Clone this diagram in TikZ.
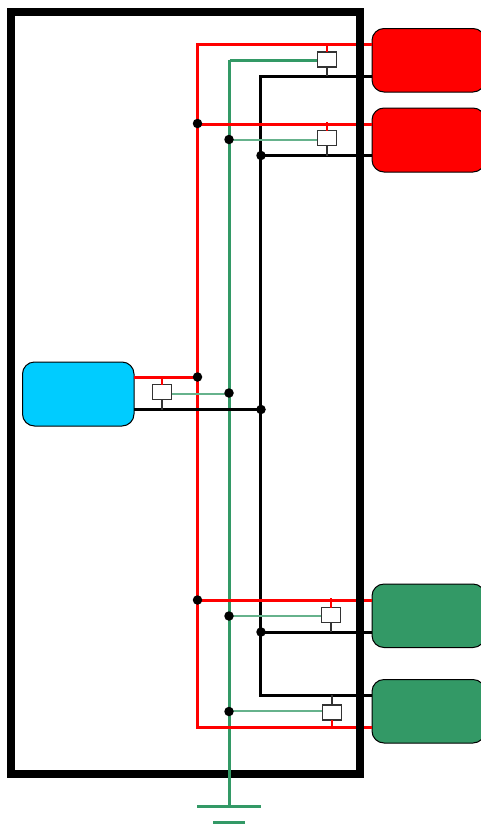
\documentclass[tikz,border=0pt]{standalone}
\definecolor{relred}{RGB}{255,0,0}
\definecolor{relgreen}{RGB}{51,153,102}
\definecolor{relblue}{RGB}{0,204,255}
\tikzset{
  x=1pt,y=-1pt,
  module/.style={draw=black,line width=1pt,rounded corners=12pt,anchor=north west,inner sep=0pt,outer sep=0pt},
  relay/.style={draw=black!80,fill=white,line width=1.4pt,minimum width=19.5pt,minimum height=15pt,inner sep=0pt,outer sep=0pt},
  dot/.style={circle,fill=black,inner sep=0pt,minimum size=9.5pt},
  bus/.style={line width=3pt},
  tap/.style={line width=1.3pt},
  sense/.style={line width=1.7pt,relgreen!75},
}
\begin{document}
\begin{tikzpicture}
\useasboundingbox (0,0) rectangle (481,835);
\clip (0,0) rectangle (481,835);
\fill[white] (0,0) rectangle (481,835);
% modules
\node[module,fill=relred,minimum width=113pt,minimum height=63.5pt] (ra) at (372,28.5) {};
\node[module,fill=relred,minimum width=113pt,minimum height=64pt] (rb) at (372,108) {};
\node[module,fill=relgreen,minimum width=113pt,minimum height=63.5pt] (ga) at (372,584) {};
\node[module,fill=relgreen,minimum width=113pt,minimum height=63.5pt] (gb) at (372,679.5) {};
\node[module,fill=relblue,minimum width=111.5pt,minimum height=64pt] (bl) at (22.5,362) {};
% free ends
\coordinate (rtop) at (197.5,44.5);
\coordinate (rbot) at (197.5,727.5);
\coordinate (ktop) at (260.7,76);
\coordinate (kbot) at (260.7,695);
\coordinate (gtop) at (229.5,60);
\coordinate (gbus) at (229.5,806);
\coordinate (gla) at (197,806);
\coordinate (glb) at (261,806);
\coordinate (gsa) at (213,822);
\coordinate (gsb) at (245,822);
\coordinate (gfa) at (229.5,760);
\coordinate (gfb) at (229.5,790);
\coordinate (ra1) at (372,44.5);
\coordinate (ra2) at (372,76);
\coordinate (rb1) at (372,124);
\coordinate (rb2) at (372,155.5);
\coordinate (ga1) at (372,600.5);
\coordinate (ga2) at (372,632);
\coordinate (gb1) at (372,695);
\coordinate (gb2) at (372,727.5);
\coordinate (bl1) at (134,377);
\coordinate (bl2) at (134,409.5);
\coordinate (rj2) at (197.5,124);
\coordinate (rj4) at (197.5,600.5);
\coordinate (up2) at (327,122);
\coordinate (up4) at (331,598);
\coordinate (s2) at (229,140);
\coordinate (s3) at (229,394);
\coordinate (s4) at (229,616);
\coordinate (s5) at (229,711);
% black rail and green rail
\draw[bus,black] (ra2) -- (ktop) -- (kbot) -- (gb1);
\draw[bus,black] (ktop |- rb2) -- (rb2);
\draw[bus,black] (ktop |- ga2) -- (ga2);
\draw[bus,relgreen] (gtop) -- (gbus);
\draw[bus,relgreen] (gla) -- (glb);
\draw[bus,relgreen] (gsa) -- (gsb);
% red rail
\draw[bus,relred] (ra1) -- (rtop) -- (rbot) -- (gb2);
\draw[bus,relred] (rj2) -- (rb1);
\draw[bus,relred] (rtop |- bl1) -- (bl1);
\draw[bus,relred] (rj4) -- (ga1);
% blue module return
\draw[bus,black] (ktop |- bl2) -- (bl2);
% frame
\draw[black,line width=8pt] (11,12) rectangle (360,774);
\draw[bus,relgreen] (gfa) -- (gfb);
% relays
\node[relay] (k1) at (327,59.5) {};
\node[relay] (k2) at (327,138) {};
\node[relay] (k3) at (162,392) {};
\node[relay] (k4) at (331,615) {};
\node[relay] (k5) at (332,712.5) {};
% relay taps
\draw[bus,relgreen] (gtop) -- (gtop -| k1.west);
\draw[sense] (s2) -- (s2 -| k2.west);
\draw[sense] (s3) -- (s3 -| k3.east);
\draw[sense] (s4) -- (s4 -| k4.west);
\draw[sense] (s5) -- (s5 -| k5.west);
\draw[tap,relred] (k1.north) -- (k1.north |- ra1);
\draw[tap,relred] (k2.north) -- (up2);
\draw[tap,relred] (k3.north) -- (k3.north |- bl1);
\draw[tap,relred] (k4.north) -- (up4);
\draw[tap,relred] (k5.south) -- (k5.south |- gb2);
\draw[tap,black!80] (k1.south) -- (k1.south |- ra2);
\draw[tap,black!80] (k2.south) -- (k2.south |- rb2);
\draw[tap,black!80] (k3.south) -- (k3.south |- bl2);
\draw[tap,black!80] (k4.south) -- (k4.south |- ga2);
\draw[tap,black!80] (k5.north) -- (k5.north |- gb1);
% junctions
\node[dot] (jr2) at (197.5,123.5) {};
\node[dot] (jg2) at (229,139.5) {};
\node[dot] (jk2) at (261,155.5) {};
\node[dot] (jr3) at (197.5,377) {};
\node[dot] (jg3) at (229,393) {};
\node[dot] (jk3) at (261,409.5) {};
\node[dot] (jr4) at (197.5,600) {};
\node[dot] (jg4) at (229,616) {};
\node[dot] (jk4) at (261,632) {};
\node[dot] (jg5) at (229,711.5) {};
\end{tikzpicture}
\end{document}
